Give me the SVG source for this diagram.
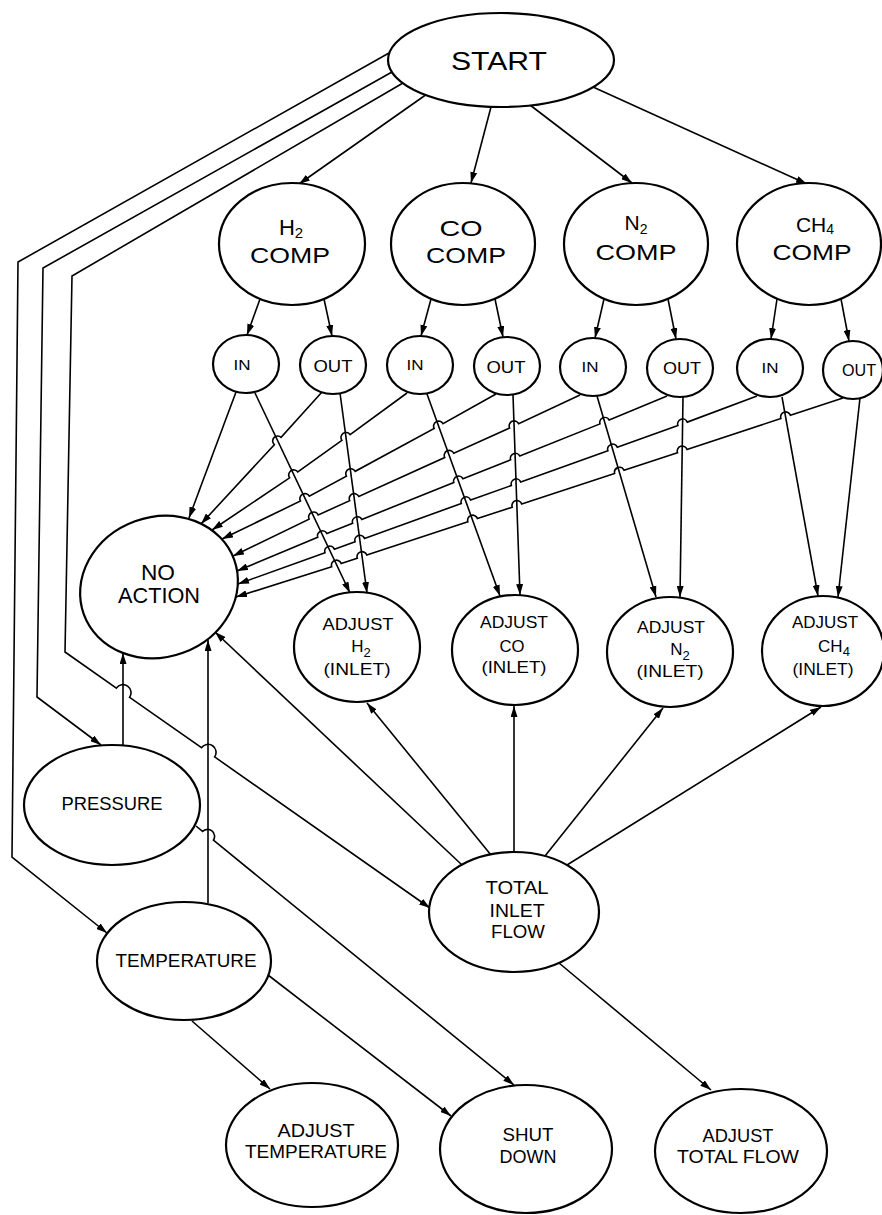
<svg xmlns="http://www.w3.org/2000/svg" width="882" height="1215" viewBox="0 0 882 1215">
<defs>
<style>
.n{fill:#fff;stroke:#000;stroke-width:2.2}
.t{font-family:"Liberation Sans",Arial,sans-serif;fill:#000;text-anchor:middle}
.c line,.c path{fill:none;stroke:#000;stroke-width:1.6;marker-end:url(#ah)}
</style>
<marker id="ah" viewBox="0 0 11 7" refX="11" refY="3.5" markerWidth="11" markerHeight="7" markerUnits="userSpaceOnUse" orient="auto"><path d="M0,0 L11,3.5 L0,7 z" fill="#000"/></marker>
</defs>
<rect width="882" height="1215" fill="#fff"/>
<g class="c" id="connectors">
<line x1="427" y1="94" x2="299" y2="184"/>
<line x1="491" y1="107" x2="471" y2="183"/>
<line x1="530" y1="105" x2="632" y2="183"/>
<line x1="593" y1="87" x2="807" y2="184"/>
<path d="M389,53 L18,262 L12,857 L107,933"/>
<path d="M392,72 L43,268 L37,697 L101,745"/>
<path d="M403,83 L72,276 L65,652 L116.4,688.1 A8,8 0 0 1 129.6,697.3 L201.5,747.7 A8,8 0 0 1 214.6,756.9 L430,908"/>
<line x1="260" y1="299" x2="247" y2="335"/>
<line x1="324" y1="299" x2="332" y2="336"/>
<line x1="431" y1="299" x2="421" y2="336"/>
<line x1="495" y1="299" x2="503" y2="337"/>
<line x1="604" y1="299" x2="595" y2="338"/>
<line x1="668" y1="299" x2="676" y2="339"/>
<line x1="777" y1="299" x2="771" y2="339"/>
<line x1="841" y1="299" x2="849" y2="341"/>
<line x1="255" y1="393" x2="350" y2="593"/>
<line x1="340" y1="393" x2="367" y2="593"/>
<line x1="427" y1="394" x2="500" y2="596"/>
<line x1="513" y1="395" x2="520" y2="595"/>
<line x1="597" y1="396" x2="656" y2="597"/>
<line x1="683" y1="397" x2="680" y2="597"/>
<line x1="782" y1="397" x2="818" y2="596"/>
<line x1="860" y1="398" x2="838" y2="597"/>
<path d="M236,392 L189,518"/>
<path d="M322,392 L281.1,437.3 A5,5 0 0 0 274.3,444.7 L201,524"/>
<path d="M407,393 L350.1,434.6 A5,5 0 0 0 341.9,440.4 L297.8,472 A5,5 0 0 0 289.6,477.8 L212,530"/>
<path d="M496,394 L443,423.7 A5,5 0 0 0 434.2,428.5 L355.2,471.3 A5,5 0 0 0 346.4,476.1 L309.3,496.2 A5,5 0 0 0 300.5,501 L222,539"/>
<path d="M580,395 L518.7,423.8 A5,5 0 0 0 509.6,428 L453.8,453.3 A5,5 0 0 0 444.7,457.5 L358.8,496.5 A5,5 0 0 0 349.7,500.7 L318.2,514.9 A5,5 0 0 0 309.1,519.1 L233,556"/>
<path d="M667,396 L609.2,420.1 A5,5 0 0 0 600,423.9 L519.8,456 A5,5 0 0 0 510.6,459.8 L463,478.8 A5,5 0 0 0 453.8,482.6 L361.8,519.4 A5,5 0 0 0 352.6,523.2 L326.9,533.5 A5,5 0 0 0 317.7,537.3 L237,571"/>
<path d="M757,396 L687.3,422.1 A5,5 0 0 0 677.9,425.5 L617.3,447.3 A5,5 0 0 0 607.9,450.7 L520.8,482.1 A5,5 0 0 0 511.4,485.5 L470.7,500.1 A5,5 0 0 0 461.3,503.5 L364.5,538.4 A5,5 0 0 0 355.1,541.8 L334.4,549.3 A5,5 0 0 0 325,552.7 L238,584"/>
<path d="M843,398 L790.4,415.3 A5,5 0 0 0 780.9,418.5 L687,449.5 A5,5 0 0 0 677.5,452.7 L624,470.2 A5,5 0 0 0 614.6,473.4 L521.7,504 A5,5 0 0 0 512.2,507.2 L477.4,518.6 A5,5 0 0 0 467.9,521.8 L366.8,555.1 A5,5 0 0 0 357.3,558.3 L341.2,563.6 A5,5 0 0 0 331.7,566.8 L236,597"/>
<line x1="491" y1="855" x2="367" y2="703"/>
<line x1="514" y1="852" x2="514" y2="706"/>
<line x1="545" y1="856" x2="663" y2="708"/>
<line x1="567" y1="865" x2="821" y2="707"/>
<line x1="462" y1="865" x2="215" y2="632"/>
<line x1="559" y1="963" x2="711" y2="1090"/>
<line x1="123" y1="745" x2="123" y2="653"/>
<line x1="208" y1="903" x2="208" y2="640"/>
<path d="M196,826 L202.6,831.4 A7,7 0 0 1 213.4,840.2 L514,1085"/>
<line x1="192" y1="1021" x2="270" y2="1089"/>
<line x1="268" y1="975" x2="451" y2="1116"/>
</g>
<g id="start"><ellipse class="n" cx="501" cy="60" rx="113" ry="47"/><text class="t" x="499" y="70" font-size="25" textLength="96" lengthAdjust="spacingAndGlyphs">START</text></g>
<g id="h2comp"><ellipse class="n" cx="292" cy="244" rx="73" ry="61"/><text class="t" font-size="22" x="291" y="235">H<tspan font-size="15" dy="3">2</tspan></text><text class="t" x="290" y="263" font-size="22" textLength="80" lengthAdjust="spacingAndGlyphs">COMP</text></g>
<g id="cocomp"><ellipse class="n" cx="463" cy="244" rx="72" ry="61"/><text class="t" x="461" y="236" font-size="22" textLength="43" lengthAdjust="spacingAndGlyphs">CO</text><text class="t" x="466" y="263" font-size="22" textLength="80" lengthAdjust="spacingAndGlyphs">COMP</text></g>
<g id="n2comp"><ellipse class="n" cx="636" cy="244" rx="72" ry="61"/><text class="t" font-size="21" x="636" y="230">N<tspan font-size="14" dy="4">2</tspan></text><text class="t" x="636" y="260" font-size="22" textLength="81" lengthAdjust="spacingAndGlyphs">COMP</text></g>
<g id="ch4comp"><ellipse class="n" cx="809" cy="244" rx="72" ry="61"/><text class="t" font-size="21" x="815" y="232">CH<tspan font-size="14" dy="2">4</tspan></text><text class="t" x="812" y="260" font-size="22" textLength="79" lengthAdjust="spacingAndGlyphs">COMP</text></g>
<g id="in1"><ellipse class="n" cx="246" cy="364" rx="33" ry="29"/><text class="t" x="242" y="370" font-size="15" textLength="17" lengthAdjust="spacingAndGlyphs">IN</text></g>
<g id="out1"><ellipse class="n" cx="333" cy="365" rx="33" ry="29"/><text class="t" x="333" y="372" font-size="16" textLength="39" lengthAdjust="spacingAndGlyphs">OUT</text></g>
<g id="in2"><ellipse class="n" cx="420" cy="365" rx="33" ry="29"/><text class="t" x="415" y="370" font-size="15" textLength="17" lengthAdjust="spacingAndGlyphs">IN</text></g>
<g id="out2"><ellipse class="n" cx="507" cy="366" rx="33" ry="29"/><text class="t" x="506" y="373" font-size="16" textLength="39" lengthAdjust="spacingAndGlyphs">OUT</text></g>
<g id="in3"><ellipse class="n" cx="593" cy="367" rx="33" ry="29"/><text class="t" x="590" y="372" font-size="15" textLength="17" lengthAdjust="spacingAndGlyphs">IN</text></g>
<g id="out3"><ellipse class="n" cx="680" cy="368" rx="33" ry="29"/><text class="t" x="682" y="374" font-size="16" textLength="38" lengthAdjust="spacingAndGlyphs">OUT</text></g>
<g id="in4"><ellipse class="n" cx="770" cy="368" rx="33" ry="29"/><text class="t" x="770" y="373" font-size="15" textLength="17" lengthAdjust="spacingAndGlyphs">IN</text></g>
<g id="out4"><ellipse class="n" cx="853" cy="370" rx="30" ry="29"/><text class="t" x="859" y="376" font-size="16" textLength="34" lengthAdjust="spacingAndGlyphs">OUT</text></g>
<g id="noaction"><ellipse class="n" cx="159" cy="587" rx="80" ry="70" transform="rotate(-20 159 587)"/><text class="t" x="158" y="580" font-size="22" textLength="34" lengthAdjust="spacingAndGlyphs">NO</text><text class="t" x="159" y="603" font-size="22" textLength="82" lengthAdjust="spacingAndGlyphs">ACTION</text></g>
<g id="adjh2"><ellipse class="n" cx="357" cy="647" rx="63" ry="55"/><text class="t" x="358" y="630" font-size="17" textLength="71" lengthAdjust="spacingAndGlyphs">ADJUST</text><text class="t" font-size="17" x="361" y="652">H<tspan font-size="13" dy="5">2</tspan></text><text class="t" x="357" y="675" font-size="17" textLength="67" lengthAdjust="spacingAndGlyphs">(INLET)</text></g>
<g id="adjco"><ellipse class="n" cx="515" cy="650" rx="63" ry="55"/><text class="t" x="514" y="628" font-size="17" textLength="68" lengthAdjust="spacingAndGlyphs">ADJUST</text><text class="t" x="512" y="652" font-size="17" textLength="25" lengthAdjust="spacingAndGlyphs">CO</text><text class="t" x="514" y="673" font-size="17" textLength="65" lengthAdjust="spacingAndGlyphs">(INLET)</text></g>
<g id="adjn2"><ellipse class="n" cx="670" cy="652" rx="63" ry="55"/><text class="t" x="671" y="633" font-size="17" textLength="68" lengthAdjust="spacingAndGlyphs">ADJUST</text><text class="t" font-size="17" x="680" y="655">N<tspan font-size="13" dy="5">2</tspan></text><text class="t" x="670" y="677" font-size="17" textLength="67" lengthAdjust="spacingAndGlyphs">(INLET)</text></g>
<g id="adjch4"><ellipse class="n" cx="823" cy="651" rx="61" ry="55"/><text class="t" x="825" y="628" font-size="17" textLength="66" lengthAdjust="spacingAndGlyphs">ADJUST</text><text class="t" font-size="17" x="834" y="652">CH<tspan font-size="13" dy="4">4</tspan></text><text class="t" x="823" y="675" font-size="17" textLength="61" lengthAdjust="spacingAndGlyphs">(INLET)</text></g>
<g id="pressure"><ellipse class="n" cx="112" cy="805" rx="88" ry="60"/><text class="t" x="112" y="810" font-size="18" textLength="101" lengthAdjust="spacingAndGlyphs">PRESSURE</text></g>
<g id="totalinletflow"><ellipse class="n" cx="514" cy="912" rx="85" ry="60"/><text class="t" x="517" y="894" font-size="18.5" textLength="63" lengthAdjust="spacingAndGlyphs">TOTAL</text><text class="t" x="517" y="917" font-size="18.5" textLength="55" lengthAdjust="spacingAndGlyphs">INLET</text><text class="t" x="518" y="938" font-size="18.5" textLength="54" lengthAdjust="spacingAndGlyphs">FLOW</text></g>
<g id="temperature"><ellipse class="n" cx="184" cy="961" rx="87" ry="59"/><text class="t" x="186" y="967" font-size="18" textLength="141" lengthAdjust="spacingAndGlyphs">TEMPERATURE</text></g>
<g id="adjtemp"><ellipse class="n" cx="312" cy="1145" rx="86" ry="62"/><text class="t" x="316" y="1137" font-size="18" textLength="77" lengthAdjust="spacingAndGlyphs">ADJUST</text><text class="t" x="316" y="1158" font-size="18" textLength="142" lengthAdjust="spacingAndGlyphs">TEMPERATURE</text></g>
<g id="shutdown"><ellipse class="n" cx="526" cy="1149" rx="86" ry="64"/><text class="t" x="528" y="1141" font-size="18" textLength="51" lengthAdjust="spacingAndGlyphs">SHUT</text><text class="t" x="528" y="1163" font-size="18" textLength="57" lengthAdjust="spacingAndGlyphs">DOWN</text></g>
<g id="adjtotal"><ellipse class="n" cx="741" cy="1151" rx="86" ry="62"/><text class="t" x="738" y="1142" font-size="18" textLength="71" lengthAdjust="spacingAndGlyphs">ADJUST</text><text class="t" x="738" y="1163" font-size="18" textLength="122" lengthAdjust="spacingAndGlyphs">TOTAL FLOW</text></g>
</svg>
